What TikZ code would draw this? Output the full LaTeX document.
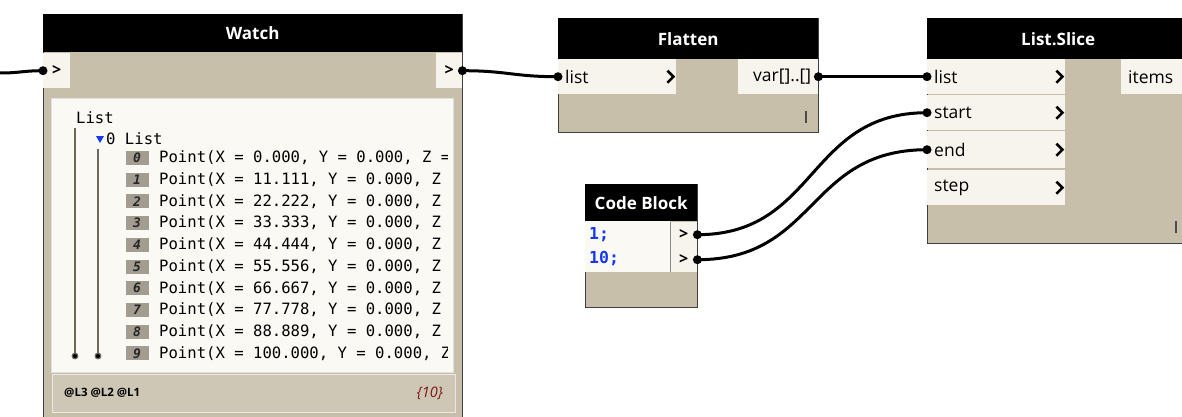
\documentclass[tikz,border=0pt]{standalone}
\usepackage{fontspec}
\setmainfont{Open Sans}
\setmonofont{DejaVu Sans Mono}
\usetikzlibrary{positioning,calc}
\definecolor{nodetan}{HTML}{C8BFAB}
\definecolor{foottan}{HTML}{CFC7B5}
\definecolor{portfill}{HTML}{F7F4ED}
\definecolor{panelfill}{HTML}{FBF9F4}
\definecolor{idxgrey}{HTML}{A39C90}
\definecolor{treeline}{HTML}{6F665A}
\definecolor{codeblue}{HTML}{1638F5}
\definecolor{countred}{HTML}{7A1616}
\newcommand{\chevron}[1]{\draw[chev] ([xshift=-9pt]#1.east) ++(0,-6) -- ++(6,6) -- ++(-6,6);}
\tikzset{
  body/.style={draw=black!75,fill=nodetan,line width=1pt,anchor=north west,inner sep=0pt},
  head/.style={fill=black,anchor=north west,inner sep=0pt,minimum height=38,text=white,font=\bfseries\fontsize{17}{20}\selectfont},
  port/.style={fill=portfill,anchor=north west,minimum height=35,inner xsep=7pt,inner ysep=0pt,text width=#1,align=left,font=\fontsize{17.5}{20}\selectfont},
  outport/.style={port=#1,align=right},
  slot/.style={fill=portfill,anchor=north west,inner sep=0pt,minimum width=27,minimum height=35,font=\bfseries\fontsize{16}{18}\selectfont},
  panel/.style={fill=panelfill,draw=black!12,anchor=north west,inner sep=0pt},
  footer/.style={fill=foottan,draw=white!60!foottan,anchor=north west,inner sep=0pt},
  tree/.style={anchor=west,inner sep=0pt,font=\ttfamily\fontsize{15.6}{18}\selectfont},
  idx/.style={fill=idxgrey,inner sep=0pt,minimum width=23,minimum height=14,font=\ttfamily\bfseries\itshape\fontsize{13}{14}\selectfont,text=black!85},
  code/.style={anchor=west,inner sep=0pt,text=codeblue,font=\ttfamily\bfseries\fontsize{16.5}{19}\selectfont},
  wire/.style={draw=black,line width=3pt},
  chev/.style={draw=black,line width=2.6pt,miter limit=4},
  tick/.style={draw=black!70,line width=1.2pt},
  treeline/.style={draw=treeline,line width=1.2pt},
}
\begin{document}
\begin{tikzpicture}[x=1pt,y=-1pt]
\useasboundingbox (0,0) rectangle (1182,417);

% Watch node
\node[body,minimum width=419,minimum height=410] (watch) at (43,14) {};
\node[head,minimum width=419] (watch-head) at (43,14) {Watch};
\node[slot] (watch-in) at (43,53) {>};
\node[slot,minimum width=26] (watch-out) at (436,53) {>};
\node[panel,minimum width=402,minimum height=274] (watch-panel) at (51,98) {};
\node[footer,minimum width=403,minimum height=38] (watch-foot) at (52,374) {};
\node[anchor=west,inner sep=0pt,font=\bfseries\fontsize{11.5}{13}\selectfont] (levels) at (64,393) {@L3 @L2 @L1};
\node[anchor=east,inner sep=0pt,text=countred,font=\itshape\fontsize{14.5}{16}\selectfont] (count) at (443,393) {\{10\}};

% tree of points
\begin{scope}
\clip (watch-panel.north west) rectangle ([xshift=-6pt]watch-panel.south east);
\node[tree] (root) at (76,118) {List};
\node[tree] (sub) at (106,139) {0 List};
\fill[codeblue] (96,136) -- (104,136) -- (100,143) -- cycle;
\draw[treeline] (75,128) -- (75,356);
\draw[treeline] (98,149) -- (98,356);
\fill[treeline] (75,356) circle[radius=2.8pt] (98,356) circle[radius=2.8pt];
\foreach \v [count=\i from 0] in {0.000,11.111,22.222,33.333,44.444,55.556,66.667,77.778,88.889,100.000} {
  \node[idx] (idx-\i) at (137,158+21.7*\i) {\i};
  \node[tree] (pt-\i) at (159,158+21.7*\i) {Point(X = \v, Y = 0.000, Z = 0.000)};
}
\end{scope}

% Flatten node
\node[body,minimum width=260,minimum height=114] (flat) at (558,18) {};
\node[head,minimum width=260,minimum height=41] (flat-head) at (558,18) {Flatten};
\node[port=104pt] (flat-list) at (558,59) {list};
\node[outport=66pt] (flat-out) at (738,59) {var[]..[]};
\chevron{flat-list}
\draw[tick] (806,111) -- (806,123);

% List.Slice node
\node[body,minimum width=262,minimum height=225] (slice) at (927,18) {};
\node[head,minimum width=262,minimum height=41] (slice-head) at (927,18) {List.Slice};
\node[port=124pt] (slice-list) at (927,59) {list};
\node[port=124pt] (slice-start) at (927,95) {start};
\node[port=124pt,minimum height=37] (slice-end) at (927,131) {end};
\node[port=124pt] (slice-step) at (927,170) {step};
\node[port=70pt] (slice-items) at (1121,59) {items};
\foreach \p in {slice-list,slice-start,slice-end,slice-step} {\chevron{\p}}
\draw[tick] (1176,221) -- (1176,233);

% Code Block node
\node[body,minimum width=112,minimum height=123] (cb) at (585,184) {};
\node[head,minimum width=112,minimum height=37] (cb-head) at (585,184) {Code Block};
\node[fill=panelfill,anchor=north west,inner sep=0pt,minimum width=85,minimum height=51] (cb-text) at (585,221) {};
\node[code] (line-one) at (589,235) {1;};
\node[code] (line-ten) at (589,259) {10;};
\node[slot,minimum width=27,minimum height=25] (cb-one) at (670,222) {>};
\node[slot,minimum width=27,minimum height=25] (cb-ten) at (670,247) {>};
\draw[draw=black!45,line width=1pt] (cb-one.north west) -- (cb-ten.south west);

% wires
\coordinate (left-end) at (0,73);
\draw[wire] (left-end) .. controls +(20,0) and +(-20,0) .. (watch-in.west);
\draw[wire] (watch-out.east) .. controls +(45,0) and +(-45,0) .. (flat-list.west);
\draw[wire] (flat-out.east) -- (slice-list.west);
\draw[wire] (cb-one.east) .. controls +(120,0) and +(-120,0) .. (slice-start.west);
\draw[wire] (cb-ten.east) .. controls +(120,0) and +(-120,0) .. (slice-end.west);
\foreach \p in {watch-in.west,watch-out.east,flat-list.west,flat-out.east,slice-list.west,slice-start.west,slice-end.west,cb-one.east,cb-ten.east}
  \fill (\p) circle[radius=4.5pt];
\end{tikzpicture}
\end{document}
